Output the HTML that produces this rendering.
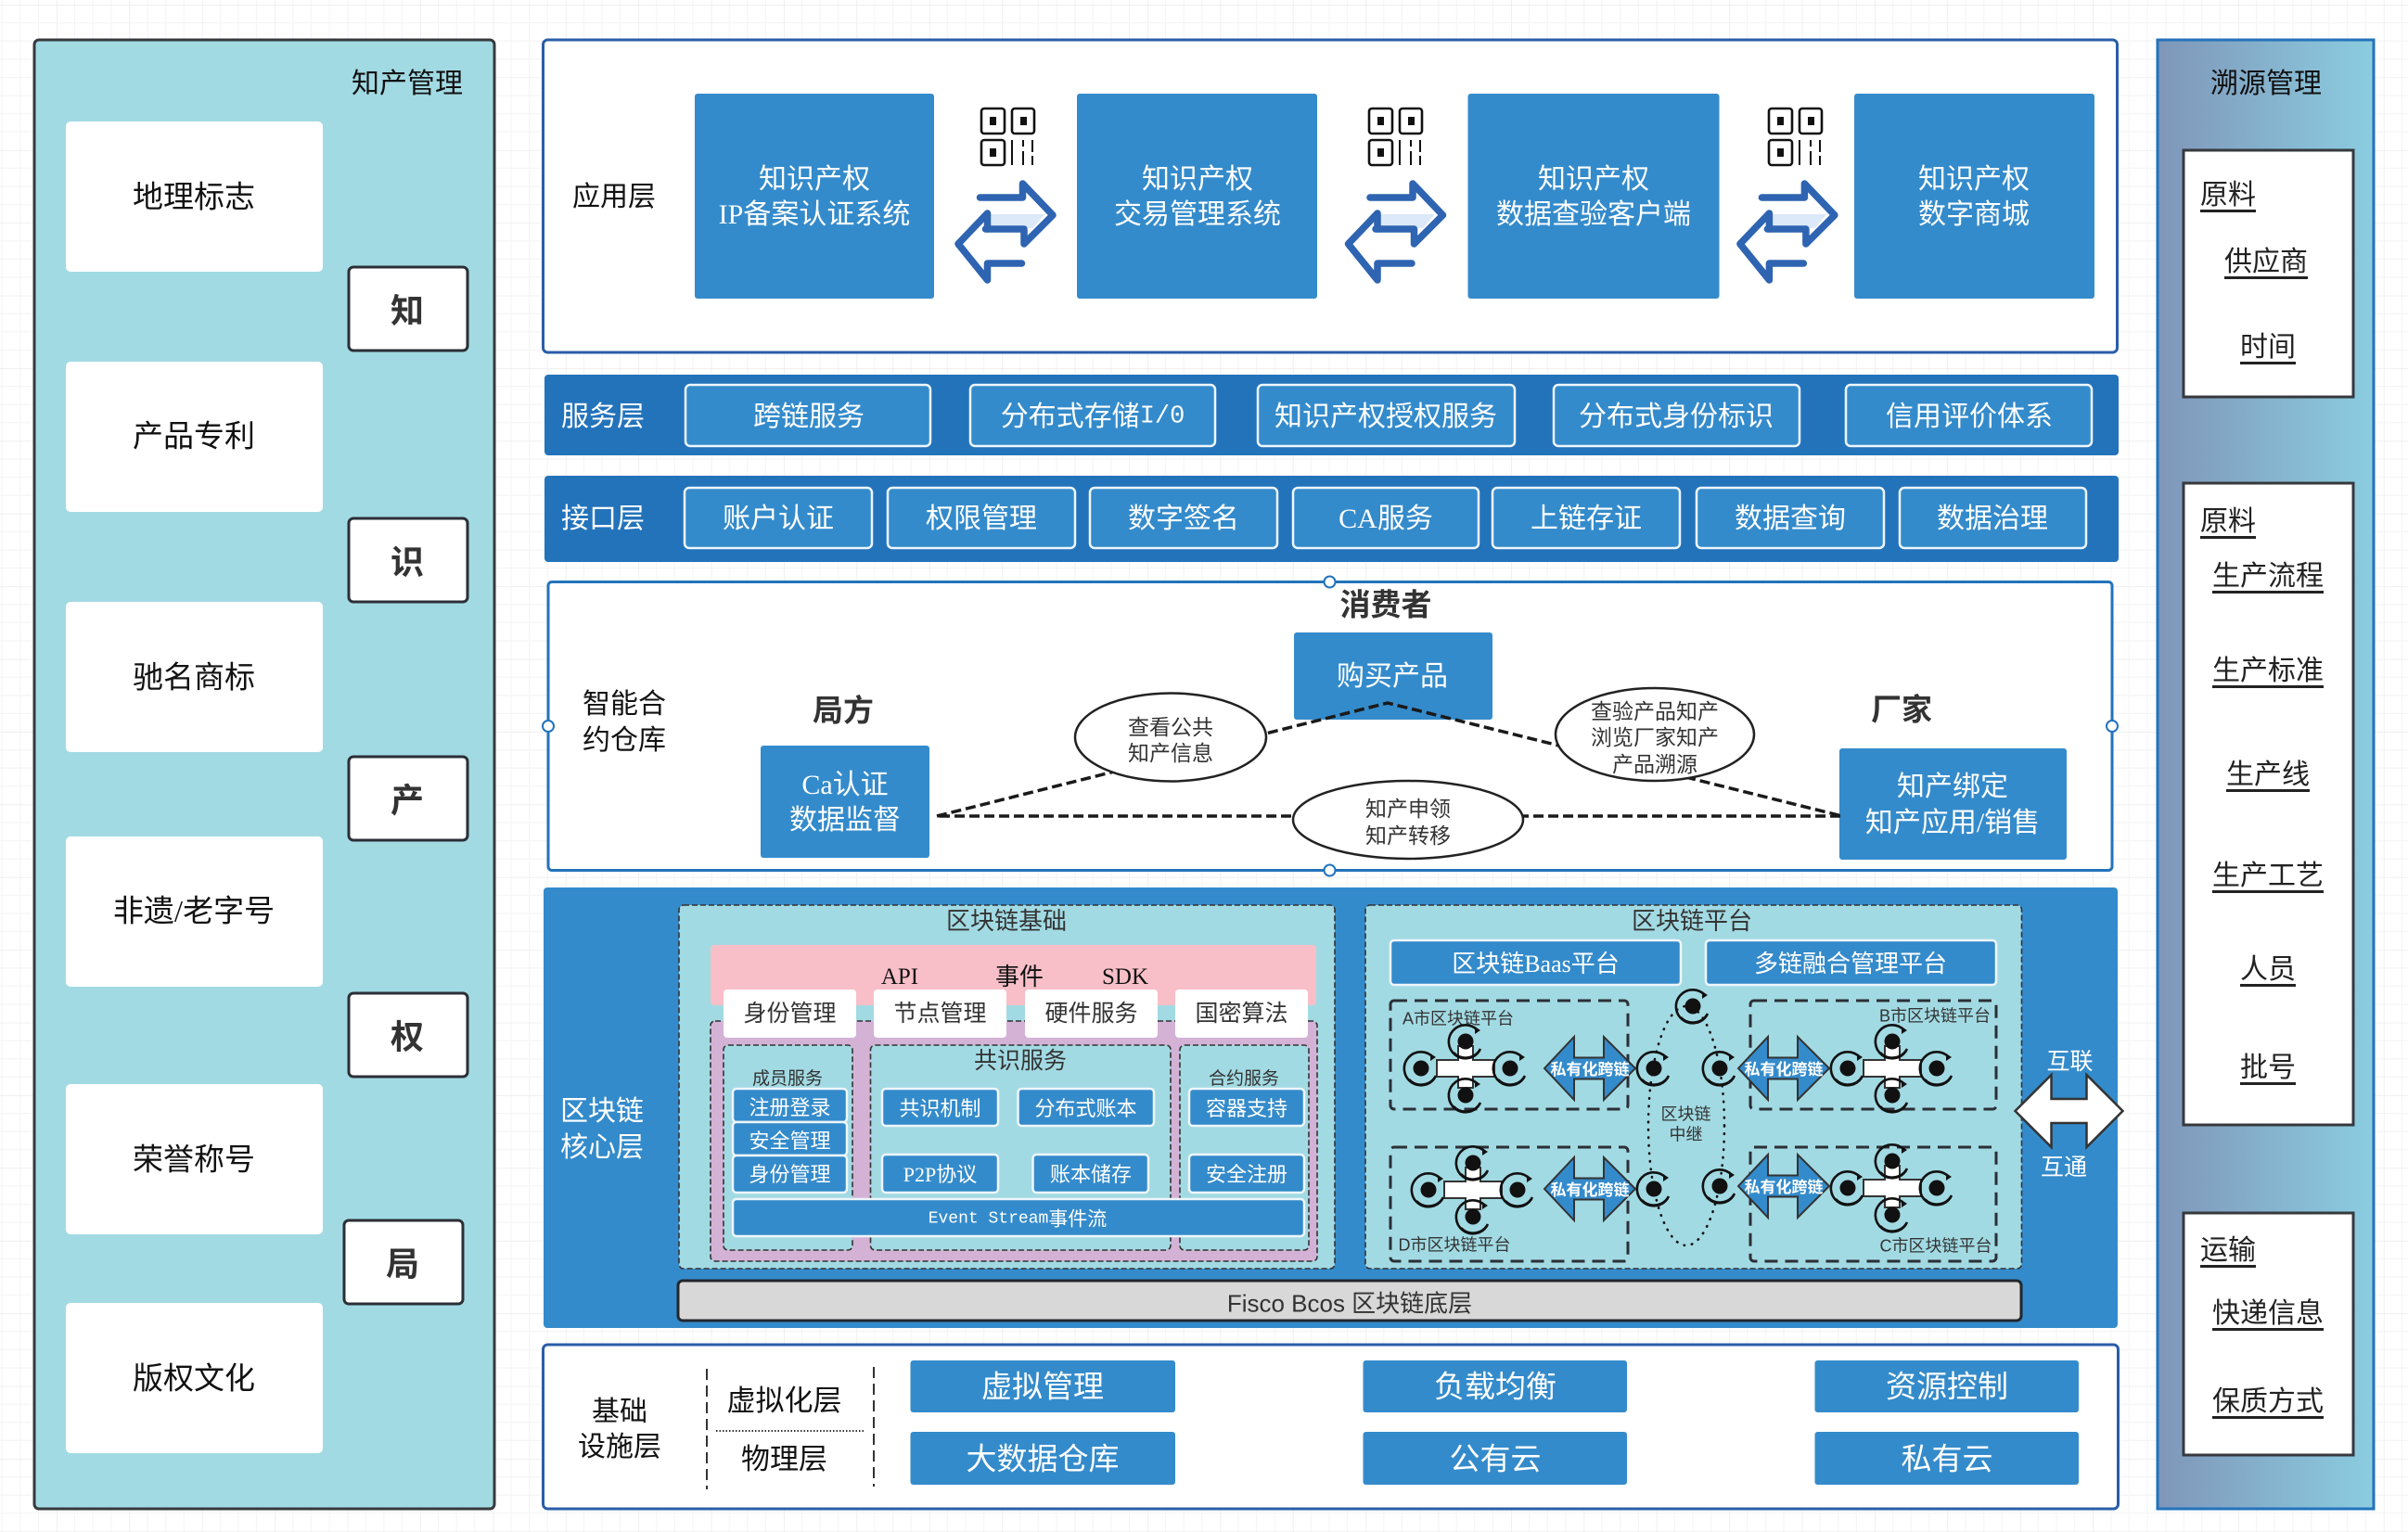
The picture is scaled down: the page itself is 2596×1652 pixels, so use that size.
<!DOCTYPE html>
<html lang="zh-CN"><head><meta charset="utf-8"><title>架构图</title>
<style>
html,body{margin:0;padding:0;background:#fff;width:2596px;height:1652px;overflow:hidden}
svg{display:block}
text{font-family:"Liberation Serif","Noto Sans CJK SC",serif;text-anchor:middle;dominant-baseline:central;fill:#111;transform:translateY(1.5px)}
.sans{font-family:"Liberation Sans","Noto Sans CJK SC",sans-serif}
.mono{font-family:"Liberation Mono",monospace}
.w{fill:#fff}
.s30{font-size:30px}
.g{fill:#333}
.u{text-decoration:underline;font-size:30px;fill:#222}
.btn{fill:#348bcb;stroke:#eef6fb;stroke-width:2.5}
.d{stroke:#333;stroke-width:1.6;stroke-dasharray:6 3}
</style></head><body>
<svg xmlns="http://www.w3.org/2000/svg" width="2596" height="1652" viewBox="0 0 2596 1652">
<defs>
<pattern id="grid" width="78.4" height="78.4" patternUnits="userSpaceOnUse" patternTransform="translate(61 5)">
<path d="M19.6 0V78.4M39.2 0V78.4M58.8 0V78.4M0 19.6H78.4M0 39.2H78.4M0 58.8H78.4" stroke="#f5f5f5" stroke-width="1.2" fill="none"/>
<path d="M0 0V78.4M0 0H78.4" stroke="#ececec" stroke-width="1.6" fill="none"/>
</pattern>
<linearGradient id="gr" x1="0" y1="0" x2="1" y2="0"><stop offset="0" stop-color="#7f96b9"/><stop offset="1" stop-color="#8bcde0"/></linearGradient>
<g id="qr" fill="none" stroke="#111" stroke-width="2.6">
<rect x="1" y="1" width="25" height="27" rx="3"/><rect x="34" y="1" width="24" height="27" rx="3"/><rect x="1" y="35" width="25" height="27" rx="3"/>
<path d="M34 35V62M46 35V42M46 47V62M56 35V48M56 52V62" stroke-width="2"/>
<rect x="10" y="10" width="7" height="9" fill="#111" stroke="none"/><rect x="43" y="10" width="7" height="9" fill="#111" stroke="none"/><rect x="10" y="44" width="7" height="9" fill="#111" stroke="none"/>
</g>
<g id="arr">
<path d="M1488 231H1547L1534 246H1488Z" fill="#dbe9f8"/>
<path d="M1477 213H1523V198L1555.5 232L1524.5 263V247H1483" fill="none" stroke="#2e64b1" stroke-width="7.5" stroke-linejoin="round" stroke-linecap="round"/>
<path d="M1522 284H1485V302L1453.5 263L1485 230V247" fill="none" stroke="#2e64b1" stroke-width="7.5" stroke-linejoin="round" stroke-linecap="round"/>
</g>
<g id="ring">
<path d="M13 -12A18 18 0 1 0 15 10" fill="none" stroke="#111" stroke-width="2.6"/>
<path d="M-13 12A18 18 0 0 0 16 8" fill="none" stroke="#111" stroke-width="2.6"/>
<path d="M10 -16L16 -12L10 -8" fill="#111"/>
<circle r="8.5" fill="#111"/>
</g>
<g id="clu">
<path d="M-8 -24H8V-9H31V9H8V21H-8V9H-31V-9H-8Z" fill="#fff" stroke="#333" stroke-width="2"/>
<use href="#ring" x="0" y="-29"/><use href="#ring" x="0" y="29"/><use href="#ring" x="-48" y="0"/><use href="#ring" x="48" y="0"/>
</g>
<g id="dbl"><path d="M-49 0L-17 -34V-11.5H15V-34L49 0L15 34V11.5H-17V34Z" fill="#348bcb" stroke="#333" stroke-width="2"/></g>
</defs>
<rect width="2596" height="1652" fill="#fff"/>
<rect width="2596" height="1652" fill="url(#grid)"/>

<!-- left panel -->
<rect x="37" y="43" width="496" height="1584" rx="5" fill="#a2dae3" stroke="#36393d" stroke-width="3"/>
<g fill="#fff">
<rect x="71" y="131" width="277" height="162" rx="5"/><rect x="71" y="390" width="277" height="162" rx="5"/><rect x="71" y="649" width="277" height="162" rx="5"/><rect x="71" y="902" width="277" height="162" rx="5"/><rect x="71" y="1169" width="277" height="162" rx="5"/><rect x="71" y="1405" width="277" height="162" rx="5"/>
</g>
<g font-size="33">
<text x="209" y="212">地理标志</text><text x="209" y="470">产品专利</text><text x="209" y="730">驰名商标</text><text x="209" y="982">非遗/老字号</text><text x="209" y="1250">荣誉称号</text><text x="209" y="1486">版权文化</text>
</g>
<text x="439" y="89" class="s30">知产管理</text>
<g fill="#fff" stroke="#2b2f36" stroke-width="3">
<rect x="376" y="288" width="128" height="90" rx="5"/><rect x="376" y="559" width="128" height="90" rx="5"/><rect x="376" y="816" width="128" height="90" rx="5"/><rect x="376" y="1071" width="128" height="90" rx="5"/><rect x="371" y="1316" width="128" height="90" rx="5"/>
</g>
<g font-size="36" font-weight="700">
<text x="439" y="334" class="g">知</text><text x="439" y="605" class="g">识</text><text x="439" y="862" class="g">产</text><text x="439" y="1117" class="g">权</text><text x="434" y="1362" class="g">局</text>
</g>

<!-- application layer -->
<rect x="585.5" y="43" width="1697" height="337" rx="5" fill="#fff" stroke="#2a5da8" stroke-width="3"/>
<text x="662" y="211" class="s30">应用层</text>
<rect x="749" y="101" width="258" height="221" rx="3" fill="#348bcb"/><rect x="1161" y="101" width="259" height="221" rx="3" fill="#348bcb"/><rect x="1582.5" y="101" width="271" height="221" rx="3" fill="#348bcb"/><rect x="1999" y="101" width="259" height="221" rx="3" fill="#348bcb"/>
<text x="878" y="192" class="w s30">知识产权</text><text x="878" y="230" class="w s30">IP备案认证系统</text>
<text x="1291" y="192" class="w s30">知识产权</text><text x="1291" y="230" class="w s30">交易管理系统</text>
<text x="1718" y="192" class="w s30">知识产权</text><text x="1718" y="230" class="w s30">数据查验客户端</text>
<text x="2128" y="192" class="w s30">知识产权</text><text x="2128" y="230" class="w s30">数字商城</text>
<use href="#qr" x="1057" y="116"/><use href="#qr" x="1475" y="116"/><use href="#qr" x="1906" y="116"/>
<use href="#arr" x="-420.5" y="0"/><use href="#arr" x="0" y="0"/><use href="#arr" x="422.4" y="0"/>

<!-- service layer -->
<rect x="587" y="404" width="1697" height="87" rx="4" fill="#2373bb"/>
<text x="650" y="448" class="w s30">服务层</text>
<rect x="739" y="415" width="264" height="66" rx="5" class="btn"/><rect x="1046" y="415" width="264" height="66" rx="5" class="btn"/><rect x="1356" y="415" width="277" height="66" rx="5" class="btn"/><rect x="1675" y="415" width="265" height="66" rx="5" class="btn"/><rect x="1990" y="415" width="265" height="66" rx="5" class="btn"/>
<text x="872" y="448" class="w s30">跨链服务</text><text x="1178" y="448" class="w s30">分布式存储<tspan class="mono" font-size="27">I/0</tspan></text><text x="1494" y="448" class="w s30">知识产权授权服务</text><text x="1807" y="448" class="w s30">分布式身份标识</text><text x="2123" y="448" class="w s30">信用评价体系</text>

<!-- interface layer -->
<rect x="587" y="513" width="1697" height="93" rx="4" fill="#2373bb"/>
<text x="650" y="558" class="w s30">接口层</text>
<rect x="738" y="526" width="202" height="65" rx="5" class="btn"/><rect x="957" y="526" width="202" height="65" rx="5" class="btn"/><rect x="1175" y="526" width="202" height="65" rx="5" class="btn"/><rect x="1394" y="526" width="200" height="65" rx="5" class="btn"/><rect x="1609" y="526" width="202" height="65" rx="5" class="btn"/><rect x="1829" y="526" width="202" height="65" rx="5" class="btn"/><rect x="2048" y="526" width="201" height="65" rx="5" class="btn"/>
<text x="839" y="558" class="w s30">账户认证</text><text x="1058" y="558" class="w s30">权限管理</text><text x="1276" y="558" class="w s30">数字签名</text><text x="1494" y="558" class="w s30">CA服务</text><text x="1710" y="558" class="w s30">上链存证</text><text x="1930" y="558" class="w s30">数据查询</text><text x="2148" y="558" class="w s30">数据治理</text>

<!-- smart contract -->
<rect x="591" y="627.5" width="1686" height="311" rx="4" fill="#fff" stroke="#2373bb" stroke-width="3"/>
<g fill="#fff" stroke="#2373bb" stroke-width="2"><ellipse cx="1433.5" cy="627.5" rx="6" ry="6"/><ellipse cx="1433.5" cy="938.5" rx="6" ry="6"/><ellipse cx="591" cy="783" rx="6" ry="6"/><ellipse cx="2277" cy="783" rx="6" ry="6"/></g>
<text x="673" y="758" class="s30">智能合</text><text x="673" y="797" class="s30">约仓库</text>
<text x="1494" y="652" font-size="33" font-weight="700" class="g">消费者</text>
<text x="909" y="766" font-size="33" font-weight="700" class="g">局方</text>
<text x="2050" y="765" font-size="33" font-weight="700" class="g">厂家</text>
<rect x="1395" y="682" width="214" height="94" rx="3" fill="#348bcb"/>
<text x="1501" y="728" class="w s30">购买产品</text>
<rect x="820" y="804" width="182" height="121" rx="3" fill="#348bcb"/>
<text x="911" y="845" class="w s30">Ca认证</text><text x="911" y="883" class="w s30">数据监督</text>
<rect x="1983" y="807" width="245" height="120" rx="3" fill="#348bcb"/>
<text x="2105" y="847" class="w s30">知产绑定</text><text x="2105" y="886" class="w s30">知产应用/销售</text>
<path d="M1010 880L1496 758L1986 880Z" fill="none" stroke="#1a1a1a" stroke-width="3.5" stroke-dasharray="11 5"/>
<ellipse cx="1262" cy="795" rx="103" ry="47.5" fill="#fff" stroke="#222" stroke-width="2.5"/>
<ellipse cx="1784" cy="792" rx="107" ry="50" fill="#fff" stroke="#222" stroke-width="2.5"/>
<ellipse cx="1518" cy="884" rx="124" ry="42" fill="#fff" stroke="#222" stroke-width="2.5"/>
<g font-size="23">
<text x="1262" y="783" class="g">查看公共</text><text x="1262" y="811" class="g">知产信息</text>
<text x="1784" y="766" class="g">查验产品知产</text><text x="1784" y="794" class="g">浏览厂家知产</text><text x="1784" y="823" class="g">产品溯源</text>
<text x="1518" y="871" class="g">知产申领</text><text x="1518" y="900" class="g">知产转移</text>
</g>

<!-- core layer -->
<rect x="586" y="957" width="1697" height="475" rx="4" fill="#348bcb"/>
<text x="649" y="1197" class="w s30">区块链</text><text x="649" y="1236" class="w s30">核心层</text>

<rect x="732" y="976" width="707" height="392" rx="5" fill="#a2dae3" class="d"/>
<text x="1085" y="992" font-size="26" class="g">区块链基础</text>
<rect x="766" y="1019" width="653" height="65" rx="4" fill="#f8bfc8"/>
<text x="970" y="1052" font-size="25">API</text><text x="1099" y="1052" font-size="26">事件</text><text x="1213" y="1052" font-size="25">SDK</text>
<rect x="766" y="1101" width="654" height="259" rx="5" fill="#d3b2d6" class="d"/>
<rect x="780" y="1127" width="139" height="221" rx="5" fill="#a2dae3" class="d"/>
<rect x="938.5" y="1127" width="323.5" height="221" rx="5" fill="#a2dae3" class="d"/>
<rect x="1272" y="1127" width="139" height="221" rx="5" fill="#a2dae3" class="d"/>
<g fill="#fff">
<rect x="780" y="1067" width="143" height="52" rx="4"/><rect x="942" y="1067" width="143" height="52" rx="4"/><rect x="1105" y="1067" width="143" height="52" rx="4"/><rect x="1267" y="1067" width="143" height="52" rx="4"/>
</g>
<g font-size="25">
<text x="851.5" y="1092" class="g">身份管理</text><text x="1013.5" y="1092" class="g">节点管理</text><text x="1176.5" y="1092" class="g">硬件服务</text><text x="1338.5" y="1092" class="g">国密算法</text>
<text x="1100" y="1143" class="g">共识服务</text>
</g>
<text x="849" y="1162" font-size="19" class="g">成员服务</text><text x="1341" y="1162" font-size="19" class="g">合约服务</text>
<rect x="790" y="1174" width="123" height="36" rx="4" class="btn"/><rect x="790" y="1210" width="123" height="36" rx="4" class="btn"/><rect x="790" y="1246" width="123" height="40" rx="4" class="btn"/>
<rect x="951" y="1174" width="125" height="40" rx="4" class="btn"/><rect x="1097.5" y="1174" width="146.5" height="40" rx="4" class="btn"/><rect x="951" y="1245" width="125" height="41" rx="4" class="btn"/><rect x="1113.5" y="1245" width="124.5" height="41" rx="4" class="btn"/>
<rect x="1282" y="1174" width="124" height="40" rx="4" class="btn"/><rect x="1282" y="1245" width="124" height="41" rx="4" class="btn"/>
<rect x="790" y="1293" width="616" height="40" rx="4" class="btn"/>
<g font-size="22">
<text x="851.5" y="1193" class="w">注册登录</text><text x="851.5" y="1229" class="w">安全管理</text><text x="851.5" y="1265" class="w">身份管理</text>
<text x="1013.5" y="1194" class="w">共识机制</text><text x="1170.5" y="1194" class="w">分布式账本</text><text x="1013.5" y="1265" class="w">P2P协议</text><text x="1176" y="1265" class="w">账本储存</text>
<text x="1344" y="1194" class="w">容器支持</text><text x="1344" y="1265" class="w">安全注册</text>
</g>
<text x="1097" y="1313" font-size="21" class="w"><tspan class="mono" font-size="18">Event Stream</tspan>事件流</text>

<rect x="1472" y="976" width="707.5" height="392" rx="5" fill="#a2dae3" class="d"/>
<text x="1824" y="992" font-size="26" class="g">区块链平台</text>
<rect x="1499" y="1014" width="313" height="48" rx="4" class="btn"/><rect x="1839" y="1014" width="313" height="48" rx="4" class="btn"/>
<text x="1655.5" y="1038" font-size="26" class="w">区块链Baas平台</text><text x="1995" y="1038" font-size="26" class="w">多链融合管理平台</text>
<g fill="none" stroke="#2b2f36" stroke-width="3" stroke-dasharray="14 8">
<rect x="1499" y="1079" width="256" height="117" rx="4"/><rect x="1887" y="1079" width="265" height="117" rx="4"/><rect x="1499" y="1237" width="256" height="123" rx="4"/><rect x="1887" y="1237" width="265" height="123" rx="4"/>
</g>
<ellipse cx="1818" cy="1214" rx="41" ry="129" fill="none" stroke="#111" stroke-width="2.6" stroke-linecap="round" stroke-dasharray="0.5 8"/>
<g font-size="18">
<text x="1572" y="1097" class="g sans">A市区块链平台</text><text x="2086" y="1094" class="g sans">B市区块链平台</text><text x="1568" y="1341" class="g sans">D市区块链平台</text><text x="2087" y="1342" class="g sans">C市区块链平台</text>
<text x="1817.5" y="1200" class="g">区块链</text><text x="1817.5" y="1222" class="g">中继</text>
</g>
<use href="#clu" x="1580" y="1152"/><use href="#clu" x="2040" y="1152"/><use href="#clu" x="1588" y="1283"/><use href="#clu" x="2040" y="1281"/>
<use href="#ring" x="1825" y="1085"/><use href="#ring" x="1783" y="1152"/><use href="#ring" x="1854" y="1152"/><use href="#ring" x="1783" y="1282"/><use href="#ring" x="1854" y="1279"/>
<use href="#dbl" x="1714" y="1152"/><use href="#dbl" x="1923" y="1152"/><use href="#dbl" x="1714" y="1282"/><use href="#dbl" x="1923" y="1279"/>
<g font-size="17" font-weight="700">
<text x="1714" y="1152" class="w">私有化跨链</text><text x="1923" y="1152" class="w">私有化跨链</text><text x="1714" y="1282" class="w">私有化跨链</text><text x="1923" y="1279" class="w">私有化跨链</text>
</g>
<path d="M2172.5 1198L2211.5 1159V1185H2249.5V1159L2288.5 1198L2249.5 1237V1211H2211.5V1237Z" fill="#fff" stroke="#333" stroke-width="2.5"/>
<text x="2231.5" y="1144" font-size="25" class="w">互联</text><text x="2225" y="1258" font-size="25" class="w">互通</text>

<rect x="731" y="1381" width="1448" height="43" rx="5" fill="#d8d8d8" stroke="#23262b" stroke-width="3"/>
<text x="1455" y="1404" font-size="26" class="g sans">Fisco Bcos 区块链底层</text>

<!-- infrastructure -->
<rect x="585.5" y="1450" width="1698" height="177" rx="5" fill="#fff" stroke="#2a5da8" stroke-width="3"/>
<text x="668" y="1521" class="s30">基础</text><text x="668" y="1559" class="s30">设施层</text>
<path d="M762 1476V1606" stroke="#333" stroke-width="2" stroke-dasharray="12 6" fill="none"/>
<path d="M942 1474V1603" stroke="#333" stroke-width="2" stroke-dasharray="12 6" fill="none"/>
<path d="M772 1543H933" stroke="#333" stroke-width="2" stroke-dasharray="1.5 2" fill="none"/>
<text x="845.5" y="1509" font-size="31">虚拟化层</text><text x="845.5" y="1572" font-size="31">物理层</text>
<rect x="981.5" y="1467" width="285.5" height="56" rx="3" fill="#348bcb"/><rect x="1469.5" y="1467" width="284.5" height="56" rx="3" fill="#348bcb"/><rect x="1956.5" y="1467" width="284.5" height="56" rx="3" fill="#348bcb"/>
<rect x="981.5" y="1544" width="285.5" height="57" rx="3" fill="#348bcb"/><rect x="1469.5" y="1544" width="284.5" height="57" rx="3" fill="#348bcb"/><rect x="1956.5" y="1544" width="284.5" height="57" rx="3" fill="#348bcb"/>
<g font-size="33">
<text x="1124" y="1495" class="w">虚拟管理</text><text x="1612" y="1495" class="w">负载均衡</text><text x="2099" y="1495" class="w">资源控制</text>
<text x="1124" y="1573" class="w">大数据仓库</text><text x="1612" y="1573" class="w">公有云</text><text x="2099" y="1573" class="w">私有云</text>
</g>

<!-- right panel -->
<rect x="2326" y="43" width="233" height="1584" fill="url(#gr)" stroke="#2373bb" stroke-width="3"/>
<text x="2443" y="89" class="s30">溯源管理</text>
<g fill="#fff" stroke="#36393d" stroke-width="3">
<rect x="2354" y="162" width="183" height="266"/><rect x="2354" y="521" width="183" height="692"/><rect x="2354" y="1308" width="183" height="261"/>
</g>
<text x="2402" y="209" class="u">原料</text><text x="2443" y="281" class="u">供应商</text><text x="2445" y="373" class="u">时间</text>
<text x="2402" y="561" class="u">原料</text><text x="2445" y="620" class="u">生产流程</text><text x="2445" y="722" class="u">生产标准</text><text x="2445" y="834" class="u">生产线</text><text x="2445" y="943" class="u">生产工艺</text><text x="2445" y="1044" class="u">人员</text><text x="2445" y="1150" class="u">批号</text>
<text x="2402" y="1347" class="u">运输</text><text x="2445" y="1415" class="u">快递信息</text><text x="2445" y="1510" class="u">保质方式</text>
</svg>
</body></html>
